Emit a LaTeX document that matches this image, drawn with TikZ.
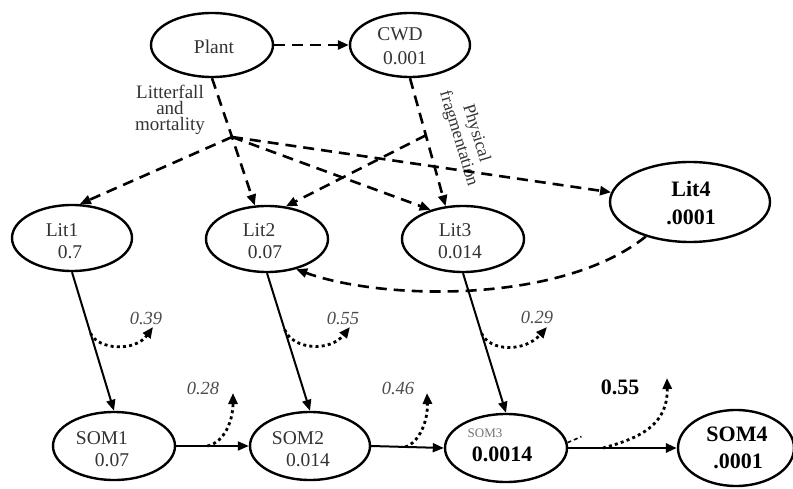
\documentclass[tikz,border=0pt]{standalone}
\usepackage{fontspec}
\setmainfont{Liberation Serif}
\usetikzlibrary{shapes.geometric,arrows.meta,calc}

\begin{document}
\begin{tikzpicture}[x=1pt,y=-1pt,
  pool/.style={draw,ellipse,line width=2.4pt,inner sep=0pt},
  txt/.style={font=\fontsize{19.5}{21}\selectfont,text=black!80,inner sep=0pt},
  btxt/.style={font=\fontsize{22}{24}\selectfont\bfseries,inner sep=0pt},
  rate/.style={font=\fontsize{18.5}{20}\selectfont\itshape,text=black!70,inner sep=0pt},
  tip/.style={-{Triangle[length=11pt,width=9pt]}},
  flowdash/.style={line width=2.6pt,dash pattern=on 11pt off 7pt},
  flow/.style={line width=2pt},
  resp/.style={line width=2.8pt,dash pattern=on 3pt off 3.2pt},
]
\useasboundingbox (0,0) rectangle (793,489);

% carbon pools
\node[pool,minimum width=122pt,minimum height=64pt] (plant) at (212,45) {};
\node[pool,minimum width=120pt,minimum height=64pt] (cwd)   at (410,45) {};
\node[pool,minimum width=120pt,minimum height=66pt] (lit1)  at (72,238) {};
\node[pool,minimum width=122pt,minimum height=66pt] (lit2)  at (267,239) {};
\node[pool,minimum width=122pt,minimum height=66pt] (lit3)  at (463,239) {};
\node[pool,minimum width=160pt,minimum height=80pt] (lit4)  at (690,202) {};
\node[pool,minimum width=122pt,minimum height=68pt] (som1)  at (114,446) {};
\node[pool,minimum width=120pt,minimum height=68pt] (som2)  at (310,446) {};
\node[pool,minimum width=122pt,minimum height=68pt] (som3)  at (506,448) {};
\node[pool,minimum width=116pt,minimum height=76pt] (som4)  at (736,448) {};

% pool labels
\node[txt] (tplant) at (214,47) {Plant};
\node[txt] (tcwd)   at (400,34) {CWD};
\node[txt] (vcwd)   at (405,58) {0.001};
\node[txt] (tlit1)  at (62,230) {Lit1};
\node[txt] (vlit1)  at (70,252) {0.7};
\node[txt] (tlit2)  at (259,230) {Lit2};
\node[txt] (vlit2)  at (265,252) {0.07};
\node[txt] (tlit3)  at (455,230) {Lit3};
\node[txt] (vlit3)  at (460,252) {0.014};
\node[btxt] (tlit4) at (691,189) {Lit4};
\node[btxt] (vlit4) at (691,217) {.0001};
\node[txt] (tsom1)  at (102,438) {SOM1};
\node[txt] (vsom1)  at (112,460) {0.07};
\node[txt] (tsom2)  at (298,438) {SOM2};
\node[txt] (vsom2)  at (308,460) {0.014};
\node[txt,font=\fontsize{13}{15}\selectfont,text=black!55] (tsom3) at (485,433) {SOM3};
\node[btxt] (vsom3) at (502,454) {0.0014};
\node[btxt] (tsom4) at (737,434) {SOM4};
\node[btxt] (vsom4) at (738,461) {.0001};

% process labels
\node[txt,font=\fontsize{19}{16}\selectfont,align=center] (litterfall) at (170,110)
  {Litterfall\\and\\mortality};
\node[txt,font=\fontsize{17.5}{18.5}\selectfont,align=center,rotate=-73] (fragment) at (467,136)
  {Physical\\fragmentation};

% litterfall and fragmentation fluxes
\coordinate (hub) at (232,137);
\draw[flowdash,tip] (plant.east) -- (cwd.west);
\draw[flowdash,tip] (plant.south) -- (hub) -- (lit2.110);
\draw[flowdash,tip] (hub) -- (lit1.77);
\draw[flowdash,tip] (hub) -- (lit3.138);
\draw[flowdash,tip] (hub) -- (lit4.173);
\draw[flowdash,tip] (cwd.south) -- coordinate[pos=0.446] (hub2) (lit3.118);
\draw[flowdash,tip] (hub2) -- (lit2.60);
\draw[flowdash,tip] (lit4.218) .. controls (560,305) and (380,300) .. (lit2.314);

% decomposition fluxes
\draw[flow,tip] (lit1.south) -- coordinate[pos=0.44] (r1) (som1.north);
\draw[flow,tip] (lit2.south) -- coordinate[pos=0.41] (r2) (som2.north);
\draw[flow,tip] (lit3.south) -- coordinate[pos=0.43] (r3) (som3.north);
\draw[flow,tip] (som1.east) -- coordinate[pos=0.43] (r4) (som2.west);
\draw[flow,tip] (som2.east) -- coordinate[pos=0.47] (r5) (som3.west);
\draw[line width=2.8pt,tip] (som3.east) -- coordinate[pos=0.32] (r6) (som4.west);

% respiration losses
\coordinate (e1) at (153,327);
\coordinate (e2) at (350,327);
\coordinate (e3) at (547,327);
\coordinate (e4) at (233,393);
\coordinate (e5) at (427,393);
\coordinate (e6) at (667,378);
\draw[resp,tip] (r1) .. controls (98,350) and (135,352) .. (e1);
\draw[resp,tip] (r2) .. controls (293,350) and (330,352) .. (e2);
\draw[resp,tip] (r3) .. controls (490,352) and (525,352) .. (e3);
\draw[resp,tip] (r4) .. controls (225,442) and (233,420) .. (e4);
\draw[resp,tip] (r5) .. controls (420,442) and (428,420) .. (e5);
\draw[resp,tip] (r6) .. controls (640,438) and (668,425) .. (e6);
\draw[line width=1.6pt,dash pattern=on 4pt off 3pt] (som3.5) -- ++(14,-6);

\node[rate] (k1) at (146,318) {0.39};
\node[rate] (k2) at (343,318) {0.55};
\node[rate] (k3) at (537,317) {0.29};
\node[rate] (k4) at (203,388) {0.28};
\node[rate] (k5) at (398,388) {0.46};
\node[btxt] (k6) at (620,387) {0.55};
\end{tikzpicture}
\end{document}
